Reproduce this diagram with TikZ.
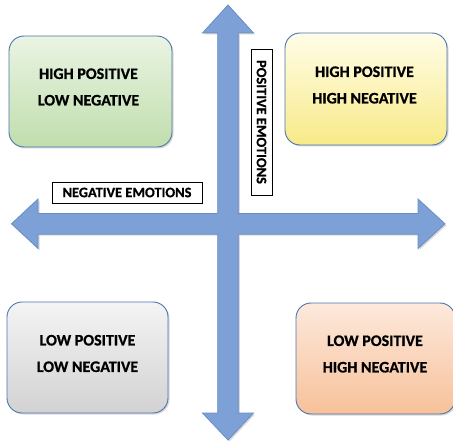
\documentclass[tikz,border=0pt]{standalone}
\usepackage{fontspec}
\setmainfont{Carlito}[BoldFont={Carlito Bold}, BoldFeatures={FakeBold=0.8}]
\usetikzlibrary{shadows}

\definecolor{axisfill}{HTML}{7DA0D6}
\definecolor{axisline}{HTML}{6A8CC4}
\definecolor{boxline}{HTML}{4A74AE}
\definecolor{greenA}{HTML}{EAF4E3}
\definecolor{greenB}{HTML}{C0DEAD}
\definecolor{yellowA}{HTML}{FFFDE8}
\definecolor{yellowB}{HTML}{F8EA88}
\definecolor{grayA}{HTML}{F4F4F4}
\definecolor{grayB}{HTML}{D2D2D2}
\definecolor{orangeA}{HTML}{FDE9DC}
\definecolor{orangeB}{HTML}{F7C19A}

\tikzset{
  softshadow/.style={drop shadow={shadow xshift=1.5pt, shadow yshift=-1.5pt, opacity=0.25, fill=black!60}},
  quadbox/.style={draw=boxline, line width=0.9pt, rounded corners=15pt,
    shading=axis, shading angle=45, softshadow},
  quadtext/.style={align=center, font=\bfseries\fontsize{16}{26.5}\selectfont, inner sep=0pt},
  axislabel/.style={draw=black, line width=0.7pt, fill=white,
    font=\bfseries\fontsize{14.4}{15}\selectfont, inner sep=0pt},
  axisarrow/.style={fill=axisfill, draw=axisline, line width=0.8pt, line join=miter, softshadow}
}

\begin{document}
\begin{tikzpicture}[x=1pt, y=-1pt]
\useasboundingbox (0,0) rectangle (453,441);

% the two emotion axes, drawn as one cross with four arrow heads
\path[axisarrow]
  (228,5) -- (253.5,33) -- (238.3,33) -- (238.3,213.5) -- (418,213.5) -- (418,199)
  -- (445,223.8) -- (418,248.5) -- (418,234.2) -- (238.3,234.2) -- (238.3,413)
  -- (253.5,413) -- (228,440) -- (202.5,413) -- (217.7,413) -- (217.7,234.2)
  -- (38,234.2) -- (38,248.5) -- (11.5,223.8) -- (38,199) -- (38,213.5)
  -- (217.7,213.5) -- (217.7,33) -- (202.5,33) -- cycle;

% quadrant boxes
\node[quadbox, top color=greenA, bottom color=greenB,
      minimum width=163pt, minimum height=111pt] (hp-ln) at (90.5,91.5) {};
\node[quadbox, top color=yellowA, bottom color=yellowB,
      minimum width=162pt, minimum height=112pt] (hp-hn) at (366,89) {};
\node[quadbox, top color=grayA, bottom color=grayB,
      minimum width=161pt, minimum height=111pt] (lp-ln) at (87.5,357.5) {};
\node[quadbox, top color=orangeA, bottom color=orangeB,
      minimum width=159pt, minimum height=111pt] (lp-hn) at (375.5,358.5) {};

% quadrant captions
\node[quadtext] (hp-ln-text) at (88.5,87) {HIGH POSITIVE\\LOW NEGATIVE};
\node[quadtext] (hp-hn-text) at (364.5,85) {HIGH POSITIVE\\HIGH NEGATIVE};
\node[quadtext] (lp-ln-text) at (87.5,353.5) {LOW POSITIVE\\LOW NEGATIVE};
\node[quadtext] (lp-hn-text) at (375,354) {LOW POSITIVE\\HIGH NEGATIVE};

% axis names
\node[axislabel, minimum width=150pt, minimum height=21pt] (neg-axis) at (127,192.5) {NEGATIVE EMOTIONS};
\node[axislabel, rotate=-90, minimum width=146pt, minimum height=21pt] (pos-axis) at (261.5,122) {POSITIVE EMOTIONS};
\end{tikzpicture}
\end{document}
